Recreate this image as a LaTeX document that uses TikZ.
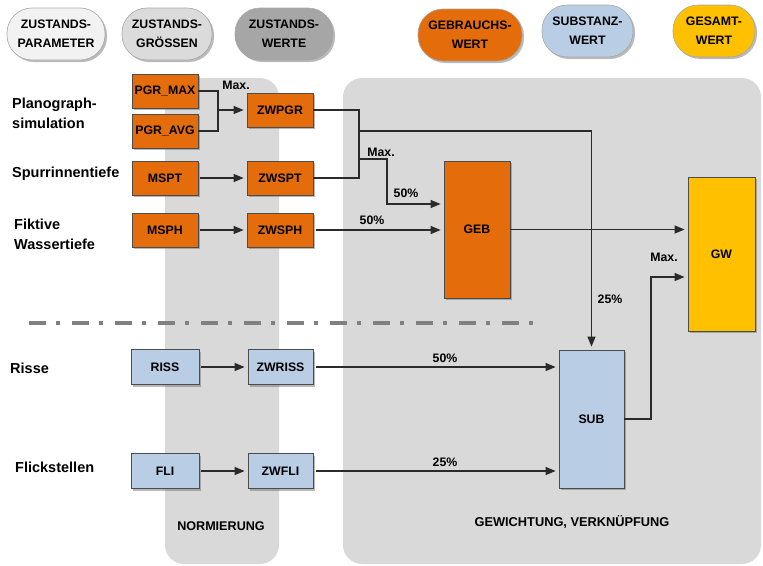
\documentclass[tikz,border=0pt]{standalone}
\usepackage{fontspec}
\setmainfont{Liberation Sans}
\usetikzlibrary{arrows.meta,shadows}
\definecolor{orangeC}{HTML}{E46C0A}
\definecolor{blueC}{HTML}{B9CDE5}
\definecolor{goldC}{HTML}{FFC000}
\definecolor{panelC}{HTML}{D9D9D9}
\definecolor{lineC}{HTML}{2A2A2A}
\tikzset{
  sh/.style={drop shadow={shadow xshift=2pt,shadow yshift=-2pt,opacity=0.45,fill=black!60}},
  box/.style={draw=black!70,line width=0.8pt,font=\bfseries\fontsize{12.3}{13}\selectfont,inner sep=0pt,minimum width=66pt,minimum height=34pt,sh},
  obox/.style={box,fill=orangeC},
  bbox/.style={box,fill=blueC},
  pill/.style={draw=black!35,line width=0.6pt,rounded corners=25pt,minimum height=52pt,inner sep=0pt,align=center,font=\bfseries\fontsize{12.3}{19}\selectfont,sh},
  conn/.style={draw=lineC,line width=1.3pt},
  arr/.style={conn,-{Triangle[length=10pt,width=8pt]},shorten >=3pt},
  lab/.style={font=\bfseries\fontsize{12.3}{13}\selectfont,inner sep=0pt},
  side/.style={font=\bfseries\fontsize{14.5}{20}\selectfont,anchor=west,align=left,inner sep=0pt},
  panel/.style={fill=panelC,draw=none,rounded corners=19pt}
}
\begin{document}
\begin{tikzpicture}[x=1pt,y=-1pt]
\useasboundingbox (0,0) rectangle (763,565);
% panels
\path[panel] (165,78) rectangle (279,564);
\path[panel] (343,78) rectangle (761,564);
\node[lab,font=\bfseries\fontsize{12.6}{13}\selectfont] (norm) at (221,526) {NORMIERUNG};
\node[lab,font=\bfseries\fontsize{12.8}{13}\selectfont] (gew) at (572,522) {GEWICHTUNG, VERKNÜPFUNG};
% legend pills
\node[pill,fill=black!5,minimum width=98pt] (p1) at (56,34) {ZUSTANDS-\\PARAMETER};
\node[pill,fill=black!14,minimum width=90pt] (p2) at (167,34) {ZUSTANDS-\\GRÖSSEN};
\node[pill,fill=black!35,minimum width=98pt] (p3) at (284,34) {ZUSTANDS-\\WERTE};
\node[pill,fill=orangeC,minimum width=104pt] (p4) at (470,35) {GEBRAUCHS-\\WERT};
\node[pill,fill=blueC,minimum width=91pt] (p5) at (587.5,31) {SUBSTANZ-\\WERT};
\node[pill,fill=goldC,minimum width=82pt] (p6) at (714,31) {GESAMT-\\WERT};
% separator
\coordinate (s1) at (29,323);
\coordinate (s2) at (535,323);
\draw[draw=black!50,line width=3.5pt,dash pattern=on 17pt off 10pt on 3.5pt off 12.5pt] (s1) -- (s2);
% side labels
\node[side] (l1) at (12,113) {Planograph-\\simulation};
\node[side] (l2) at (12,174) {Spurrinnentiefe};
\node[side] (l3) at (14,234) {Fiktive\\Wassertiefe};
\node[side] (l4) at (10,368) {Risse};
\node[side] (l5) at (15,467) {Flickstellen};
% boxes
\node[obox] (pgrmax) at (165,91) {PGR\_MAX};
\node[obox] (pgravg) at (165,131) {PGR\_AVG};
\node[obox] (mspt) at (165,178) {MSPT};
\node[obox] (msph) at (165,230) {MSPH};
\node[obox] (zwpgr) at (280,110) {ZWPGR};
\node[obox] (zwspt) at (280,178) {ZWSPT};
\node[obox] (zwsph) at (280,230) {ZWSPH};
\node[bbox,minimum width=68pt,minimum height=35pt] (riss) at (165,367) {RISS};
\node[bbox,minimum width=65pt,minimum height=35pt] (zwriss) at (280.5,367) {ZWRISS};
\node[bbox,minimum width=68pt,minimum height=35pt] (fli) at (165,471) {FLI};
\node[bbox,minimum width=65pt,minimum height=35pt] (zwfli) at (280.5,471) {ZWFLI};
\node[bbox,minimum width=65pt,minimum height=138pt] (sub) at (591.5,419) {SUB};
\node[obox,minimum width=66pt,minimum height=137pt] (geb) at (477,229.5) {GEB};
\node[box,fill=goldC,minimum width=67pt,minimum height=154pt] (gw) at (721.5,254) {GW};
% connectors
\coordinate (j1) at (218,110);
\draw[conn] (pgrmax.east) -| (j1) |- (pgravg.east);
\draw[arr] (j1) -- (zwpgr.west);
\node[lab] (mx1) at (236,85) {Max.};
\draw[arr,shorten <=2pt] (mspt.east) -- (zwspt.west);
\draw[arr,shorten <=2pt] (msph.east) -- (zwsph.west);
\draw[arr,shorten <=2pt] (riss.east) -- (zwriss.west);
\draw[arr,shorten <=2pt] (fli.east) -- (zwfli.west);
\coordinate (j2) at (359,110);
\coordinate (j3) at (359,178);
\draw[conn] (zwpgr.east) -- (j2) -- (j3) -- (zwspt.east);
\coordinate (j4) at (359,131);
\draw[arr] (j4) -| (sub.north);
\node[lab] (p25a) at (610,299) {25\%};
\coordinate (j5) at (359,159);
\coordinate (j6) at (387,204);
\draw[arr] (j5) -| (j6) -- (j6 -| geb.west);
\node[lab] (mx2) at (381,152) {Max.};
\node[lab] (p50a) at (406,193) {50\%};
\draw[arr,shorten <=3pt] (zwsph.east) -- (zwsph.east -| geb.west);
\node[lab] (p50b) at (372,220) {50\%};
\draw[arr] (geb.east) -- (geb.east -| gw.west);
\coordinate (j7) at (651,277);
\draw[arr] (sub.east) -| (j7) -- (j7 -| gw.west);
\node[lab] (mx3) at (664,257) {Max.};
\draw[arr,shorten <=3pt] (zwriss.east) -- (zwriss.east -| sub.west);
\node[lab] (p50c) at (445,358) {50\%};
\draw[arr,shorten <=3pt] (zwfli.east) -- (zwfli.east -| sub.west);
\node[lab] (p25b) at (445,462) {25\%};
\end{tikzpicture}
\end{document}
